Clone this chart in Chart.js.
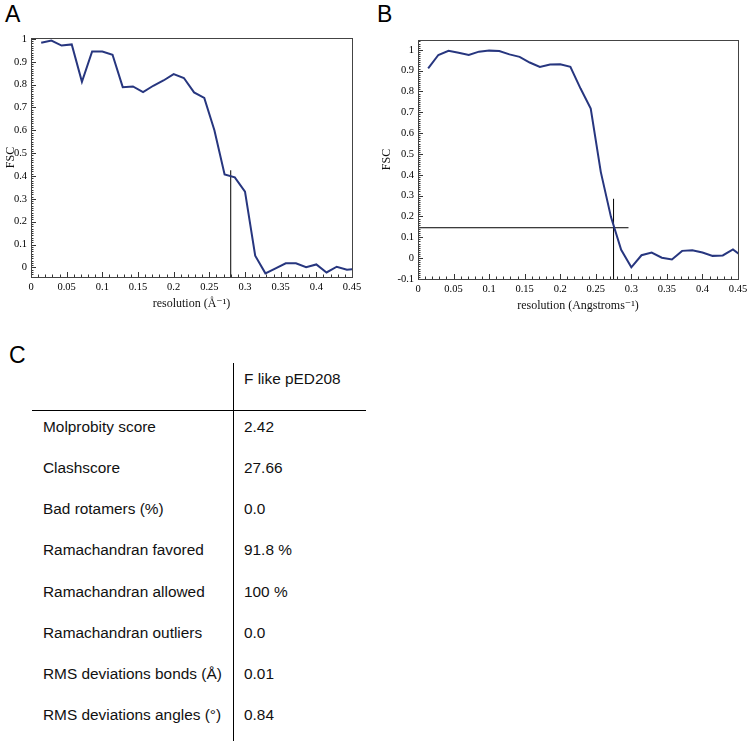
<!DOCTYPE html>
<html>
<head>
<meta charset="utf-8">
<script src="https://cdn.jsdelivr.net/npm/chart.js@4.4.0/dist/chart.umd.min.js"></script>
<style>
  body { margin: 0; background: #fff; width: 747px; height: 741px; position: relative; overflow: hidden;
         font-family: "Liberation Sans", Arial, sans-serif; }
  .panel { position: absolute; font-size: 23px; line-height: 1; color: #000; }
  .box { position: absolute; top: 0; width: 372px; height: 320px; }
  .cell { position: absolute; font-size: 15.4px; line-height: 20px; white-space: nowrap; color: #111; }
  .rule { position: absolute; background: #000; }
</style>
</head>
<body>
<div class="panel" style="left:5px;top:3px">A</div>
<div class="panel" style="left:377px;top:3px">B</div>
<div class="panel" style="left:9px;top:344px">C</div>
<div class="box" style="left:0"><canvas id="fscA"></canvas></div>
<div class="box" style="left:375px"><canvas id="fscB"></canvas></div>
<div id="table"></div>

<script>
// ================================
// DATA
// ================================
const resolution = [0.0143, 0.0286, 0.0429, 0.0571, 0.0714, 0.0857, 0.1000, 0.1143,
  0.1286, 0.1429, 0.1571, 0.1714, 0.1857, 0.2000, 0.2143, 0.2286,
  0.2429, 0.2571, 0.2714, 0.2857, 0.3000, 0.3143, 0.3286, 0.3429,
  0.3571, 0.3714, 0.3857, 0.4000, 0.4143, 0.4286, 0.4429, 0.4571];

const fscA = [0.983, 0.993, 0.971, 0.976, 0.812, 0.945, 0.945, 0.931,
  0.789, 0.792, 0.767, 0.795, 0.818, 0.846, 0.829, 0.766,
  0.742, 0.600, 0.407, 0.394, 0.332, 0.051, -0.026, -0.004,
  0.018, 0.018, 0.001, 0.013, -0.022, 0.003, -0.010, -0.006];

const fscB = [0.911, 0.975, 0.995, 0.986, 0.975, 0.991, 0.996, 0.994,
  0.978, 0.966, 0.939, 0.918, 0.929, 0.931, 0.918, 0.814,
  0.718, 0.413, 0.197, 0.040, -0.044, 0.014, 0.027, 0.002,
  -0.006, 0.035, 0.038, 0.027, 0.011, 0.013, 0.042, 0.005];

// axis ranges
const xRange = [0, 0.45];
const yRangeA = [-0.042, 1.004];
const yRangeB = [-0.1, 1.047];

// cutoff marker lines
const cutA_x = [0.28, 0.28];
const cutA_y = [-0.042, 0.425];
const cutB_vx = [0.275, 0.275];
const cutB_vy = [-0.1, 0.285];
const cutB_hx = [0, 0.296];
const cutB_hy = [0.146, 0.146];

// table
const tableHeader = "F like pED208";
const tableLabels = ["Molprobity score", "Clashscore", "Bad rotamers (%)", "Ramachandran favored",
  "Ramachandran allowed", "Ramachandran outliers", "RMS deviations bonds (Å)", "RMS deviations angles (°)"];
const tableValues = ["2.42", "27.66", "0.0", "91.8 %", "100 %", "0.0", "0.01", "0.84"];

// ================================
// FRAME + INWARD TICKS
// ================================
const framePlugin = {
  id: "frame",
  afterDatasetsDraw(chart) {
    const { ctx, chartArea: a, scales: { x, y } } = chart;
    ctx.save();
    ctx.strokeStyle = "#333";
    ctx.lineWidth = 1;
    ctx.beginPath();
    for (let k = Math.ceil(x.min * 100); k <= Math.floor(x.max * 100 + 1e-6); k++) {
      const px = Math.round(x.getPixelForValue(k / 100)) + 0.5;
      const len = k % 5 === 0 ? 5 : 2.5;
      ctx.moveTo(px, a.bottom);
      ctx.lineTo(px, a.bottom - len);
    }
    for (let k = Math.ceil(y.min * 100); k <= Math.floor(y.max * 100 + 1e-6); k++) {
      const py = Math.round(y.getPixelForValue(k / 100)) + 0.5;
      const len = k % 10 === 0 ? 5 : 2.5;
      ctx.moveTo(a.left, py);
      ctx.lineTo(a.left + len, py);
    }
    ctx.stroke();
    ctx.strokeStyle = "#444";
    ctx.strokeRect(Math.round(a.left) + 0.5, Math.round(a.top) + 0.5,
      Math.round(a.right - a.left), Math.round(a.bottom - a.top));
    ctx.restore();
  }
};

function pairs(xs, ys) {
  return xs.map((v, i) => ({ x: v, y: ys[i] }));
}

// 0.10 -> "0.1", 1.0 -> "1"
function plainNumber(value) {
  return String(Number(value.toFixed(2)));
}

function fscChart(id, cfg) {
  const serif = "'Liberation Serif', 'DejaVu Serif', serif";
  const markers = cfg.markers.map(m => ({
    data: m,
    showLine: true,
    borderColor: "#000",
    borderWidth: 1,
    pointRadius: 0
  }));
  return new Chart(document.getElementById(id), {
    type: "scatter",
    data: {
      datasets: [{
        data: pairs(resolution, cfg.fsc),
        showLine: true,
        borderColor: "#27367f",
        borderWidth: 2,
        pointRadius: 0,
        tension: 0
      }].concat(markers)
    },
    options: {
      responsive: true,
      maintainAspectRatio: false,
      animation: false,
      layout: { padding: cfg.padding },
      plugins: { legend: { display: false }, tooltip: { enabled: false } },
      scales: {
        x: {
          type: "linear",
          min: xRange[0],
          max: xRange[1],
          grid: { display: false, drawTicks: false },
          border: { display: false },
          ticks: {
            stepSize: 0.05, includeBounds: false, padding: 4, maxRotation: 0, autoSkip: false,
            color: "#000", font: { family: serif, size: 10.5 },
            callback: plainNumber
          },
          title: {
            display: true, text: cfg.xTitle, color: "#111", padding: 0,
            font: { family: serif, size: 12 }
          },
          afterFit: s => { s.height = 34; s.paddingLeft = 0; s.paddingRight = 0; }
        },
        y: {
          type: "linear",
          min: cfg.yRange[0],
          max: cfg.yRange[1],
          grid: { display: false, drawTicks: false },
          border: { display: false },
          ticks: {
            stepSize: 0.1, includeBounds: false, padding: 4,
            color: "#000", font: { family: serif, size: 10.5 },
            callback: plainNumber
          },
          title: {
            display: true, text: "FSC", color: "#111", padding: { top: cfg.titlePad, bottom: 0 },
            font: { family: serif, size: 12 }
          },
          afterFit: s => { s.width = cfg.yWidth; s.paddingTop = 0; s.paddingBottom = 0; }
        }
      }
    },
    plugins: [framePlugin]
  });
}

// ================================
// PANEL A
// ================================
fscChart("fscA", {
  fsc: fscA,
  yRange: yRangeA,
  xTitle: "resolution (Å⁻¹)",
  yWidth: 31,
  titlePad: 4,
  padding: { left: 0, top: 38, right: 20, bottom: 9 },
  markers: [pairs(cutA_x, cutA_y)]
});

// ================================
// PANEL B
// ================================
fscChart("fscB", {
  fsc: fscB,
  yRange: yRangeB,
  xTitle: "resolution (Angstroms⁻¹)",
  yWidth: 43,
  titlePad: 5,
  padding: { left: 0, top: 40, right: 9, bottom: 7 },
  markers: [pairs(cutB_vx, cutB_vy), pairs(cutB_hx, cutB_hy)]
});

// ================================
// PANEL C TABLE
// ================================
const table = document.getElementById("table");
function addCell(text, left, centerY) {
  const d = document.createElement("div");
  d.className = "cell";
  d.style.left = left + "px";
  d.style.top = (centerY - 10) + "px";
  d.textContent = text;
  table.appendChild(d);
}
function addRule(left, top, width, height) {
  const d = document.createElement("div");
  d.className = "rule";
  d.style.cssText = `left:${left}px;top:${top}px;width:${width}px;height:${height}px`;
  table.appendChild(d);
}

addRule(233, 363, 1, 378);
addRule(32, 410, 334, 1);
addCell(tableHeader, 244, 379);
tableLabels.forEach((label, i) => {
  const cy = 426.7 + i * 41.2;
  addCell(label, 43, cy);
  addCell(tableValues[i], 244, cy);
});
</script>
</body>
</html>
